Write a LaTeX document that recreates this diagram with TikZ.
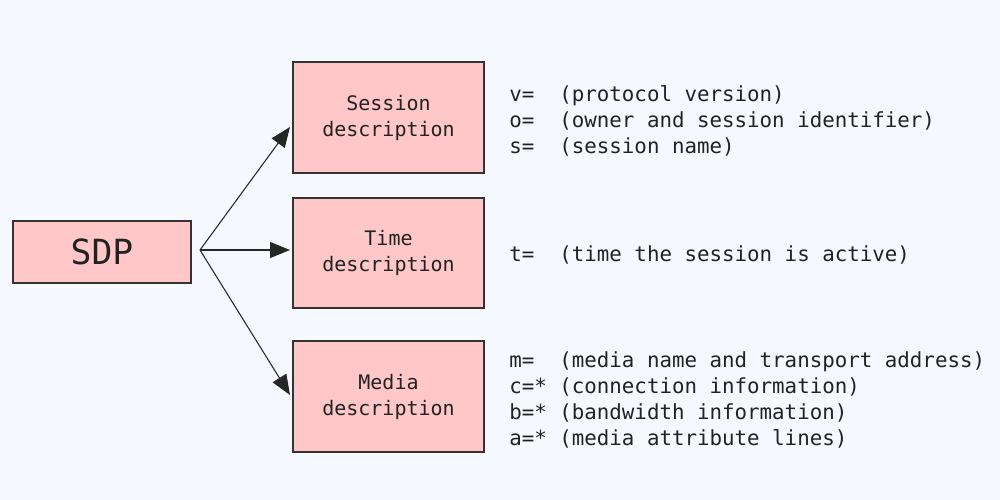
\documentclass[tikz,border=0pt]{standalone}
\usepackage{fontspec}
\setmonofont{DejaVu Sans Mono}
\usetikzlibrary{arrows.meta}
\definecolor{bgc}{HTML}{F5F9FD}
\definecolor{boxfill}{HTML}{FFC7C7}
\definecolor{boxline}{HTML}{333333}
\definecolor{txt}{HTML}{222222}
\begin{document}
\begin{tikzpicture}[x=0.75pt,y=-0.75pt,
  box/.style={draw=boxline,fill=boxfill,line width=0.8pt,inner sep=0pt,text=txt,font=\ttfamily\fontsize{15}{19.5}\selectfont,align=center},
  desc/.style={anchor=west,inner sep=0pt,text=txt,font=\ttfamily\fontsize{15.6}{19.5}\selectfont,align=left},
  conn/.style={draw=black!85,line width=0.8pt,-{Triangle[length=15pt,width=12pt]}}]
\fill[bgc] (0,0) rectangle (1000,500);
\useasboundingbox (0,0) rectangle (1000,500);
\node[box,minimum width=133.5pt,minimum height=46.5pt,font=\ttfamily\fontsize{26}{30}\selectfont] (sdp) at (102,252) {SDP};
\node[box,minimum width=143.25pt,minimum height=83.25pt] (sess) at (388.5,117.5) {Session\\description};
\node[box,minimum width=143.25pt,minimum height=82.5pt] (time) at (388.5,253) {Time\\description};
\node[box,minimum width=143.25pt,minimum height=83.25pt] (media) at (388.5,396.5) {Media\\description};
\coordinate (fork) at (200,250);
\coordinate (tend) at (290,250);
\draw[conn] (fork) -- (290,127);
\draw[conn] (fork) -- (tend);
\draw[conn] (fork) -- (290,395);
\node[desc] (sd) at (509,121) {v=\ \ (protocol version)\\o=\ \ (owner and session identifier)\\s=\ \ (session name)};
\node[desc] (td) at (509,255) {t=\ \ (time the session is active)};
\node[desc] (md) at (509,400) {m=\ \ (media name and transport address)\\c=* (connection information)\\b=* (bandwidth information)\\a=* (media attribute lines)};
\end{tikzpicture}
\end{document}
